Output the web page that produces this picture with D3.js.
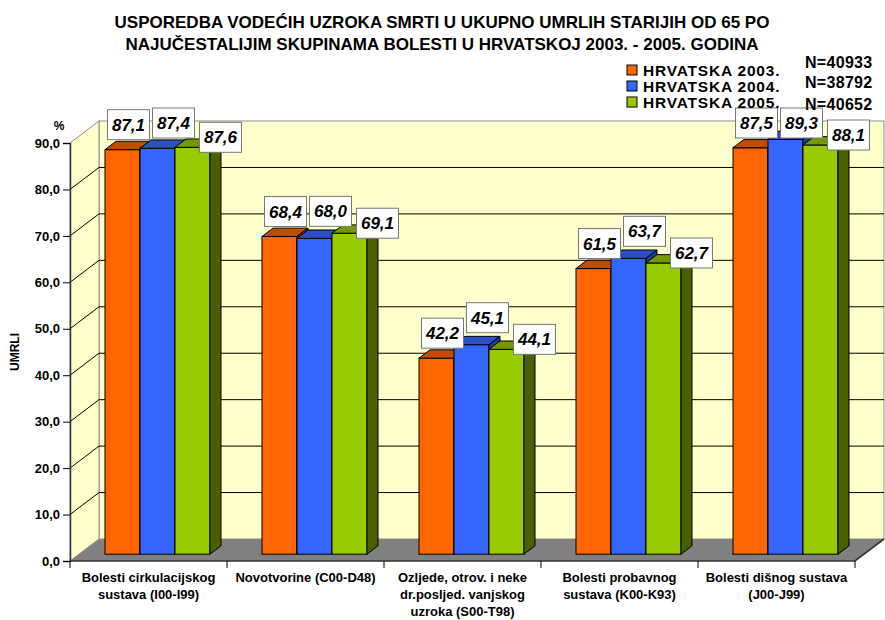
<!DOCTYPE html>
<html>
<head>
<meta charset="utf-8">
<script src="https://cdn.jsdelivr.net/npm/d3@7"></script>
<style>
  html, body { margin: 0; padding: 0; background: #ffffff; }
  svg { display: block; font-family: "Liberation Sans", Arial, sans-serif; }
</style>
</head>
<body>
<script>
// ---------------- DATA ----------------
const titleLines = [
  "USPOREDBA VODEĆIH UZROKA SMRTI U UKUPNO UMRLIH STARIJIH OD 65 PO",
  "NAJUČESTALIJIM SKUPINAMA BOLESTI U HRVATSKOJ 2003. - 2005. GODINA"
];
const categories = [
  ["Bolesti cirkulacijskog", "sustava (I00-I99)"],
  ["Novotvorine (C00-D48)"],
  ["Ozljede, otrov. i neke", "dr.posljed. vanjskog", "uzroka (S00-T98)"],
  ["Bolesti probavnog", "sustava (K00-K93)"],
  ["Bolesti dišnog sustava", "(J00-J99)"]
];
const seriesNames = ["HRVATSKA 2003.", "HRVATSKA 2004.", "HRVATSKA 2005."];
const nLabels = ["N=40933", "N=38792", "N=40652"];
const values2003 = [87.1, 68.4, 42.2, 61.5, 87.5];
const values2004 = [87.4, 68.0, 45.1, 63.7, 89.3];
const values2005 = [87.6, 69.1, 44.1, 62.7, 88.1];
const yTicks = [0, 10, 20, 30, 40, 50, 60, 70, 80, 90];
const yAxisUnit = "%";
const yAxisTitle = "UMRLI";

// ---------------- STYLE ----------------
const seriesValues = [values2003, values2004, values2005];
const frontColors = ["#FF6600", "#3366FF", "#99CC00"];
const topColors   = ["#BF4C00", "#2A50C4", "#739900"];
const sideColors  = ["#8A3800", "#1F3C94", "#4B6000"];
const FONT = "'Liberation Sans', Arial, sans-serif";

const W = 885, H = 620;
const svg = d3.select("body").append("svg").attr("width", W).attr("height", H);

// Plot geometry (front plane + depth)
const frontLeft = 70, frontRight = 855;
const depth = { x: 29, y: -22 };
const y = d3.scaleLinear().domain([0, 90]).range([561, 143]);
const xBand = d3.scaleBand().domain(d3.range(categories.length)).range([frontLeft, frontRight]);
const xSub = d3.scaleBand().domain(d3.range(seriesNames.length))
  .range([0, xBand.bandwidth()]).paddingInner(0).paddingOuter(0.743);

const barFront = { x: depth.x * 0.31, y: depth.y * 0.31 };
const barDepth = { x: depth.x * 0.38, y: depth.y * 0.38 };

const yTop = d3.max(yTicks);
const backLeft = frontLeft + depth.x;
const backRight = frontRight + depth.x;
const backTopY = y(yTop) + depth.y;
const backBottomY = y(0) + depth.y;

const poly = pts => pts.map(p => p.join(",")).join(" ");

// ---------------- WALLS ----------------
const g = svg.append("g");
g.append("rect")
  .attr("x", backLeft).attr("y", backTopY)
  .attr("width", backRight - backLeft).attr("height", backBottomY - backTopY)
  .attr("fill", "#FFFFCC").attr("stroke", "#8c8c8c").attr("stroke-width", 1);
g.append("polygon")
  .attr("points", poly([[frontLeft, y(yTop)], [backLeft, backTopY], [backLeft, backBottomY], [frontLeft, y(0)]]))
  .attr("fill", "#FFFFCC").attr("stroke", "#8c8c8c").attr("stroke-width", 1);

const gridTicks = yTicks.filter(t => t > 0 && t < yTop);
gridTicks.forEach(t => {
  g.append("line")
    .attr("x1", frontLeft).attr("y1", y(t))
    .attr("x2", backLeft).attr("y2", y(t) + depth.y)
    .attr("stroke", "#000").attr("stroke-width", 1);
  g.append("line")
    .attr("x1", backLeft).attr("y1", y(t) + depth.y)
    .attr("x2", backRight).attr("y2", y(t) + depth.y)
    .attr("stroke", "#000").attr("stroke-width", 1);
});

g.append("polygon")
  .attr("points", poly([[frontLeft, y(0)], [frontRight, y(0)], [backRight, backBottomY], [backLeft, backBottomY]]))
  .attr("fill", "#808080");
g.append("polyline")
  .attr("points", poly([[frontLeft, y(0)], [frontRight, y(0)], [backRight, backBottomY]]))
  .attr("fill", "none").attr("stroke", "#333").attr("stroke-width", 1.6);

// ---------------- AXES ----------------
const yAxis = d3.axisLeft(y).tickValues(yTicks).tickSize(7).tickPadding(3)
  .tickFormat(d => d3.format(".1f")(d).replace(".", ","));
const yAxisG = svg.append("g").attr("transform", `translate(${frontLeft},0)`).call(yAxis);
yAxisG.select(".domain").attr("stroke", "#333").attr("stroke-width", 1.5);
yAxisG.selectAll(".tick line").attr("stroke", "#000");
yAxisG.selectAll(".tick text")
  .attr("font-family", FONT).attr("font-size", 13).attr("font-weight", "bold").attr("fill", "#000");

const catBounds = d3.range(categories.length + 1).map(i => i < categories.length ? xBand(i) : frontRight);
svg.append("g").selectAll("line").data(catBounds).join("line")
  .attr("x1", d => d).attr("x2", d => d)
  .attr("y1", y(0)).attr("y2", y(0) + 7)
  .attr("stroke", "#000").attr("stroke-width", 1);

const catG = svg.append("g");
categories.forEach((lines, i) => {
  const cx = xBand(i) + xBand.bandwidth() / 2;
  lines.forEach((ln, k) => {
    catG.append("text")
      .attr("x", cx).attr("y", 582 + k * 17)
      .attr("text-anchor", "middle")
      .attr("font-family", FONT).attr("font-size", 13).attr("font-weight", "bold")
      .attr("fill", "#000").text(ln);
  });
});

svg.append("text").attr("x", 59).attr("y", 130).attr("text-anchor", "middle")
  .attr("font-family", FONT).attr("font-size", 12).attr("font-weight", "bold").text(yAxisUnit);
svg.append("text").attr("transform", "translate(19,352) rotate(-90)")
  .attr("text-anchor", "middle")
  .attr("font-family", FONT).attr("font-size", 12).attr("font-weight", "bold").text(yAxisTitle);

// ---------------- BARS ----------------
const barsG = svg.append("g");
const bars = [];
categories.forEach((c, i) => {
  seriesNames.forEach((s, j) => {
    bars.push({ i, j, v: seriesValues[j][i] });
  });
});
bars.forEach(b => {
  const xl = xBand(b.i) + xSub(b.j) + barFront.x;
  const xr = xl + xSub.bandwidth();
  const yb = y(0) + barFront.y;
  const yt = y(b.v) + barFront.y;
  b.xl = xl; b.xr = xr; b.yt = yt;
  const bg = barsG.append("g");
  bg.append("rect").attr("x", xl).attr("y", yt).attr("width", xr - xl).attr("height", yb - yt)
    .attr("fill", frontColors[b.j]).attr("stroke", "#000").attr("stroke-width", 1);
  bg.append("polygon")
    .attr("points", poly([[xl, yt], [xr, yt], [xr + barDepth.x, yt + barDepth.y], [xl + barDepth.x, yt + barDepth.y]]))
    .attr("fill", topColors[b.j]).attr("stroke", "#000").attr("stroke-width", 1);
  bg.append("polygon")
    .attr("points", poly([[xr, yt], [xr + barDepth.x, yt + barDepth.y], [xr + barDepth.x, yb + barDepth.y], [xr, yb]]))
    .attr("fill", sideColors[b.j]).attr("stroke", "#000").attr("stroke-width", 1);
});

// ---------------- VALUE LABELS ----------------
const labelShiftX = [6, 16, 28];
const labelGap = [10, 12, -5];
const boxW = 42, boxH = 30, minBoxTop = 108;
const labG = svg.append("g");
bars.forEach(b => {
  const cx = (b.xl + b.xr) / 2 + labelShiftX[b.j];
  let top = b.yt - labelGap[b.j] - boxH;
  if (top < minBoxTop) top = minBoxTop;
  labG.append("rect")
    .attr("x", cx - boxW / 2).attr("y", top).attr("width", boxW).attr("height", boxH)
    .attr("fill", "#fff").attr("stroke", "#777").attr("stroke-width", 1);
  labG.append("text")
    .attr("x", cx).attr("y", top + boxH / 2 + 6)
    .attr("text-anchor", "middle")
    .attr("font-family", FONT).attr("font-size", 17).attr("font-weight", "bold").attr("font-style", "italic")
    .attr("fill", "#000")
    .text(d3.format(".1f")(b.v).replace(".", ","));
});

// ---------------- TITLE ----------------
titleLines.forEach((t, k) => {
  svg.append("text").attr("x", 442).attr("y", 28 + k * 22)
    .attr("text-anchor", "middle")
    .attr("font-family", FONT).attr("font-size", 17).attr("font-weight", "bold")
    .attr("fill", "#000").text(t);
});

// ---------------- LEGEND ----------------
const legG = svg.append("g");
seriesNames.forEach((s, j) => {
  const cy = 70 + j * 16;
  legG.append("rect").attr("x", 627).attr("y", cy - 5).attr("width", 10).attr("height", 10)
    .attr("fill", frontColors[j]).attr("stroke", "#000").attr("stroke-width", 1);
  legG.append("text").attr("x", 643).attr("y", cy + 5.5)
    .attr("font-family", FONT).attr("font-size", 15.5).attr("font-weight", "bold")
    .attr("letter-spacing", 0.8)
    .attr("fill", "#000").text(s);
});
const nY = [63, 83, 105];
nLabels.forEach((t, j) => {
  legG.append("text").attr("x", 805).attr("y", nY[j] + 5)
    .attr("font-family", FONT).attr("font-size", 16).attr("font-weight", "bold")
    .attr("letter-spacing", 0.3)
    .attr("fill", "#000").text(t);
});
</script>
</body>
</html>
